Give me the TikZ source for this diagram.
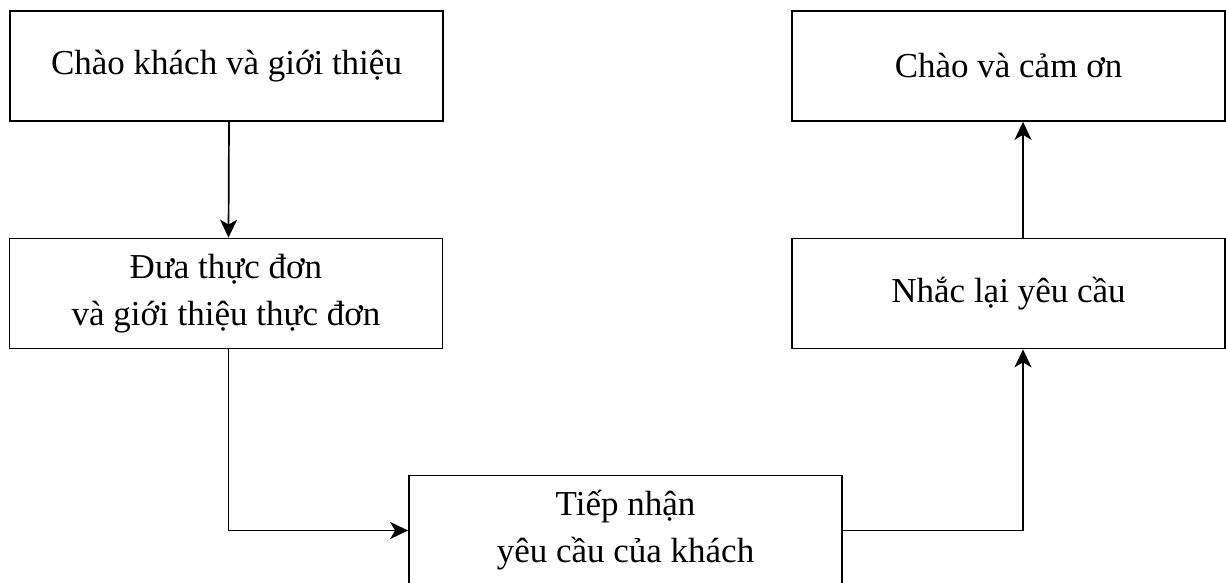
\documentclass[tikz,border=0pt]{standalone}
\usepackage{fontspec}
\setmainfont{Liberation Serif}
\usetikzlibrary{arrows.meta,positioning}
\tikzset{
  stepbox/.style={draw,line width=1.7pt,minimum width=433pt,minimum height=110pt,
    align=center,inner sep=0pt,font=\fontsize{35}{47}\selectfont},
  flow/.style={line width=1.7pt,-{Stealth[length=18pt,width=17pt,inset=5pt]}}
}
\begin{document}
\begin{tikzpicture}[x=1pt,y=-1pt]
  \useasboundingbox (0,0) rectangle (1226,583);
  % Steps
  \node[stepbox] (greet) at (226.5,66) {Chào khách và giới thiệu};
  \node[stepbox] (menu) at (226,293.5) {Đưa thực đơn\\và giới thiệu thực đơn};
  \node[stepbox] (order) at (625.5,530.5) {Tiếp nhận\\yêu cầu của khách};
  \node[stepbox] (recap) at (1008.5,293.5) {Nhắc lại yêu cầu};
  \node[stepbox] (thanks) at (1008.5,66) {Chào và cảm ơn};
  % Flow
  \draw[flow] ([xshift=2.5pt]greet.south) -- ([xshift=2.5pt]menu.north);
  \draw[flow] ([xshift=2.5pt]menu.south) |- (order.west);
  \draw[flow] (order.east) -| ([xshift=14.5pt]recap.south);
  \draw[flow] ([xshift=14.5pt]recap.north) -- ([xshift=14.5pt]thanks.south);
\end{tikzpicture}
\end{document}
